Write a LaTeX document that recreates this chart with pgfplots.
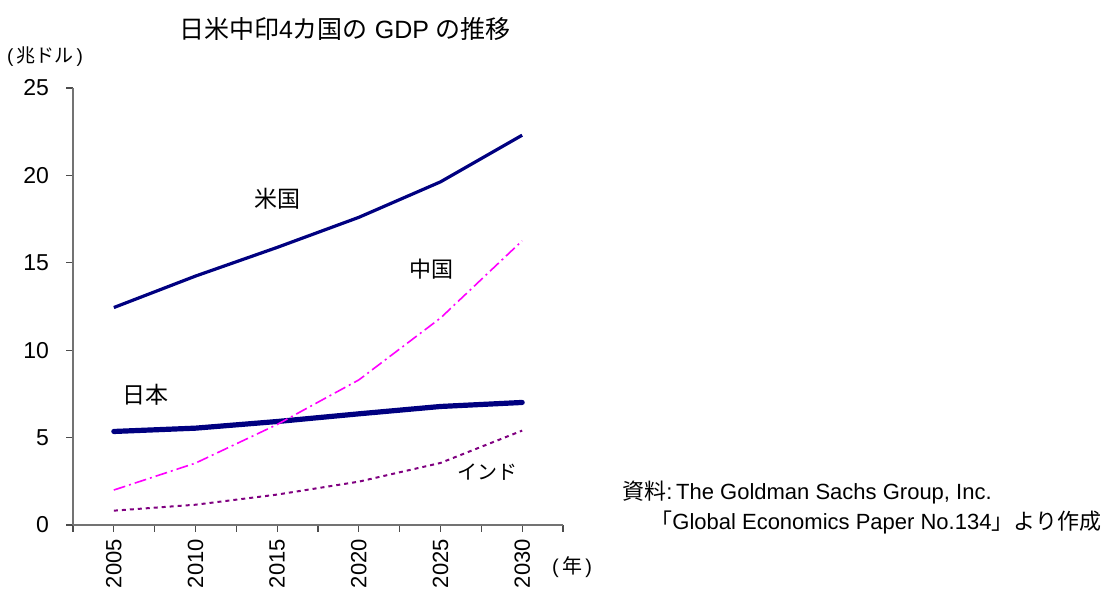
\documentclass[border=0pt]{standalone}
\usepackage{fontspec}
\usepackage{pgfplots}
\pgfplotsset{compat=1.18}
\setmainfont{Liberation Sans}
\newfontfamily\jp{Noto Sans CJK JP}
\definecolor{navy}{HTML}{000080}
\definecolor{mag}{HTML}{FF00FF}
\definecolor{purp}{HTML}{800080}
\begin{document}
\begin{tikzpicture}
\useasboundingbox (0,0) rectangle (553pt,296pt);
\begin{axis}[
  at={(36.5pt,33.5pt)}, anchor=south west,
  scale only axis, width=245pt, height=218.5pt,
  xmin=2002.5, xmax=2032.5, ymin=0, ymax=25,
  axis x line=bottom, axis y line=left,
  axis line style={-, black!55, line width=0.8pt},
  xtick={2005,2010,...,2030},
  minor xtick={2002.5,2007.5,...,2032.5},
  ytick={0,5,...,25},
  tick align=outside, major tick length=3.5pt, minor tick length=3.5pt,
  tick style={black!70, line width=0.6pt},
  /pgf/number format/assume math mode=true,
  /pgf/number format/1000 sep={},
  xticklabel style={rotate=90, anchor=east, font=\fontsize{11}{13}\selectfont},
  yticklabel style={font=\fontsize{11.5}{13}\selectfont, xshift=-5pt},
  clip=false,
]
\addplot[navy, line width=1.6pt, line join=round] coordinates {
  (2005,12.44) (2010,14.24) (2015,15.88) (2020,17.60) (2025,19.63) (2030,22.30)};
\addplot[navy, line width=2.6pt, line join=round, line cap=round] coordinates {
  (2005,5.35) (2010,5.54) (2015,5.92) (2020,6.36) (2025,6.78) (2030,7.01)};
\addplot[mag, line width=0.8pt, dash pattern=on 6pt off 2pt on 1pt off 2pt] coordinates {
  (2005,2.00) (2010,3.54) (2015,5.75) (2020,8.30) (2025,11.84) (2030,16.26)};
\addplot[purp, line width=1pt, dash pattern=on 2pt off 2pt] coordinates {
  (2005,0.82) (2010,1.16) (2015,1.74) (2020,2.48) (2025,3.55) (2030,5.40)};
\end{axis}
\node at (172.5pt,281.5pt) {\fontsize{12.5}{14}\selectfont{\jp 日米中印}4{\jp カ国の} GDP {\jp の推移}};
\node at (22.5pt,267.5pt) {\fontsize{9.5}{11}\selectfont (\,{\jp 兆ドル}\,)};
\node at (138.5pt,196.5pt) {\fontsize{11.5}{13}\selectfont\jp 米国};
\node at (215.5pt,161.5pt) {\fontsize{11}{13}\selectfont\jp 中国};
\node at (72.5pt,98.5pt) {\fontsize{11.5}{13}\selectfont\jp 日本};
\node at (243.5pt,60pt) {\fontsize{10}{12}\selectfont\jp インド};
\node at (286pt,12.5pt) {\fontsize{10}{12}\selectfont (\,{\jp 年}\,)};
\node[anchor=west, inner sep=0pt] at (311pt,49.5pt) {\fontsize{11}{13}\selectfont{\jp 資料}:\,The Goldman Sachs Group, Inc.};
\node[anchor=west, inner sep=0pt] at (325pt,35pt) {\fontsize{11}{13}\selectfont{\jp 「}Global Economics Paper No.134{\jp 」より作成}};
\end{tikzpicture}
\end{document}
